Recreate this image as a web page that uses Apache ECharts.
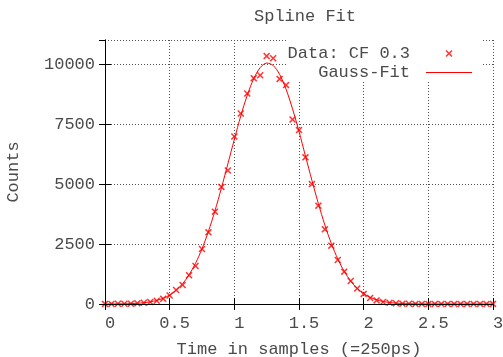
<!DOCTYPE html>
<html>
<head>
<meta charset="utf-8">
<script src="https://cdn.jsdelivr.net/npm/echarts@6/dist/echarts.min.js"></script>
<style>html,body{margin:0;padding:0;background:#fff}#c{width:503px;height:357px}</style>
</head>
<body>
<div id="c"></div>
<script>
var xValues = [0.00,0.05,0.10,0.15,0.20,0.25,0.30,0.35,0.40,0.45,0.50,0.55,0.60,0.65,0.70,0.75,0.80,0.85,0.90,0.95,
  1.00,1.05,1.10,1.15,1.20,1.25,1.30,1.35,1.40,1.45,1.50,1.55,1.60,1.65,1.70,1.75,1.80,1.85,1.90,1.95,
  2.00,2.05,2.10,2.15,2.20,2.25,2.30,2.35,2.40,2.45,2.50,2.55,2.60,2.65,2.70,2.75,2.80,2.85,2.90,2.95,3.00];
var dataCounts = [5,5,8,10,15,28,50,85,135,215,355,583,792,1195,1583,2292,2986,3847,4880,5560,
  6980,7940,8770,9410,9530,10330,10240,9380,9120,7690,7245,6110,4995,4097,3111,2431,1833,1347,958,645,
  420,250,150,85,50,30,15,10,5,5,5,5,5,5,5,5,5,5,5,5,5];
var fitCounts = [1,3,5,9,17,30,53,90,150,240,375,575,845,1215,1695,2300,3030,3880,4830,5840,
  6860,7840,8700,9390,9850,10040,9940,9570,8950,8130,7190,6165,5150,4180,3290,2520,1875,1357,954,651,
  432,279,175,106,63,36,20,11,6,3,2,1,0,0,0,0,0,0,0,0,0];
var xTicks = [0, 0.5, 1, 1.5, 2, 2.5, 3];
var yTicks = [0, 2500, 5000, 7500, 10000];
var yMax = 11000;
var titleText = 'Spline Fit';
var xName = 'Time in samples (=250ps)';
var yName = 'Counts';
var seriesNames = ['Data: CF 0.3', 'Gauss-Fit'];

var FONT = 'Liberation Mono';
var TXT = '#4a4a4a';
var xPath = 'path://M0,1.5L1.5,0L5,3.5L8.5,0L10,1.5L6.5,5L10,8.5L8.5,10L5,6.5L1.5,10L0,8.5L3.5,5Z';
var linePath = 'path://M0,0L46,0L46,1.2L0,1.2Z';

var dataPairs = xValues.map(function(x, i){ return [x, dataCounts[i]]; });
var fitPairs = xValues.map(function(x, i){ return [x, fitCounts[i]]; });

var gridLine = { show: true, lineStyle: { color: '#505050', width: 1, type: [1, 2] } };
var axLine = { show: true, lineStyle: { color: '#000', width: 1 } };
var tick = { show: true, inside: true, length: 6, lineStyle: { color: '#000', width: 1 } };

var chart = echarts.init(document.getElementById('c'), null, { renderer: 'canvas' });
chart.setOption({
  animation: false,
  backgroundColor: '#fff',
  textStyle: { fontFamily: FONT },
  title: {
    text: titleText, left: 249, top: 3,
    textStyle: { fontFamily: FONT, fontSize: 17, fontWeight: 'normal', color: TXT }
  },
  grid: { left: 105, right: 10, top: 40, bottom: 53, containLabel: false, outerBoundsMode: 'none' },
  legend: {
    orient: 'vertical', right: 20, top: 40, align: 'right',
    padding: [5, 11, 1, 1], backgroundColor: '#fff',
    itemWidth: 46, itemHeight: 7, itemGap: 2, z: 4,
    textStyle: { fontFamily: FONT, fontSize: 17, color: TXT, lineHeight: 16, padding: [0, 11, 0, 0] },
    data: [
      { name: seriesNames[0], icon: xPath },
      { name: seriesNames[1], icon: linePath }
    ]
  },
  xAxis: [
    {
      type: 'value', position: 'bottom', min: xTicks[0], max: xTicks[xTicks.length - 1],
      interval: xTicks[1] - xTicks[0],
      axisLine: axLine, axisTick: tick, splitLine: gridLine,
      axisLabel: { show: true, fontFamily: FONT, fontSize: 17, color: TXT, margin: 11,
        showMinLabel: true, showMaxLabel: true, padding: [0, 0, 0, 10],
        formatter: function(v){ return String(v); } },
      name: xName, nameLocation: 'middle', nameGap: 37,
      nameTextStyle: { fontFamily: FONT, fontSize: 17, color: TXT }
    },
    {
      type: 'value', position: 'top', min: xTicks[0], max: xTicks[xTicks.length - 1],
      interval: xTicks[1] - xTicks[0], z: 10,
      axisLine: axLine, axisTick: tick, splitLine: { show: false }, axisLabel: { show: false }
    }
  ],
  yAxis: [
    {
      type: 'value', position: 'left', min: yTicks[0], max: yMax,
      interval: yTicks[1] - yTicks[0],
      axisLine: axLine, axisTick: tick, splitLine: gridLine,
      axisLabel: { show: true, fontFamily: FONT, fontSize: 17, color: TXT, margin: 10,
        showMaxLabel: false, formatter: function(v){ return String(v); } },
      name: yName, nameLocation: 'middle', nameGap: 83,
      nameTextStyle: { fontFamily: FONT, fontSize: 17, color: TXT }
    },
    {
      type: 'value', position: 'right', min: yTicks[0], max: yMax,
      interval: yTicks[1] - yTicks[0], z: 10,
      axisLine: axLine, axisTick: tick, splitLine: { show: false }, axisLabel: { show: false }
    }
  ],
  series: [
    {
      name: seriesNames[0], type: 'scatter', data: dataPairs, xAxisIndex: 0, yAxisIndex: 0,
      symbol: xPath, symbolSize: 7, z: 3,
      itemStyle: { color: '#ff0000' }
    },
    {
      name: seriesNames[1], type: 'line', data: fitPairs, xAxisIndex: 0, yAxisIndex: 0,
      smooth: 0.3, showSymbol: false, symbol: 'none', z: 2,
      lineStyle: { color: '#ff0000', width: 1 }, itemStyle: { color: '#ff0000' }
    }
  ]
});
</script>
</body>
</html>
